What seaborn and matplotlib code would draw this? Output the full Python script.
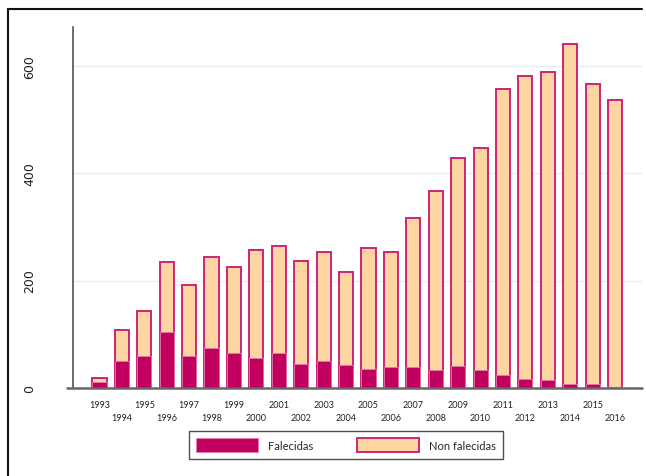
import numpy as np
import matplotlib
matplotlib.use("Agg")
import matplotlib.pyplot as plt
from matplotlib.patches import Patch
from matplotlib.lines import Line2D
import seaborn as sns

# datos (leidos do grafico)
anos = [str(a) for a in range(1993, 2017)]
falecidas = [12, 51, 59, 104, 59, 74, 65, 56, 66, 45, 51, 43,
             36, 39, 40, 33, 41, 33, 24, 16, 15, 8, 7, 1]
non_falecidas = [6, 57, 84, 130, 133, 170, 161, 200, 199, 192, 203, 173,
                 225, 215, 276, 333, 387, 414, 532, 564, 573, 632, 558, 535]
total = np.array(falecidas) + np.array(non_falecidas)

cor_fal = "#C2005F"
cor_non = "#FDD5A2"
cor_borde = "#CF2377"

sns.set_style("white")
plt.rcParams["font.family"] = ["Lato", "DejaVu Sans"]

fig = plt.figure(figsize=(6.46, 4.77), dpi=100)
ax = fig.add_axes([73 / 646, 1 - 389 / 477, 569 / 646, 361 / 477])

# barras apiladas: total (non falecidas enriba) e falecidas na base
sns.barplot(x=anos, y=total, color=cor_non, saturation=1, edgecolor=cor_borde,
            linewidth=1.4, width=0.63, ax=ax)
sns.barplot(x=anos, y=falecidas, color=cor_fal, saturation=1, edgecolor="#E07AAA",
            linewidth=0.6, width=0.63, ax=ax)

ax.set_xlim(-1.18, len(anos) - 1 + 1.2)
ax.set_ylim(0, 672)
ax.set_xlabel("")
ax.set_ylabel("")

# eixo y
ax.set_yticks([0, 200, 400, 600])
ax.set_yticklabels(["0", "200", "400", "600"], family="DejaVu Sans", fontsize=9,
                   rotation=90, va="center")
ax.tick_params(axis="y", length=4.5, width=1, color="#444444", pad=22, labelcolor="#222222")
ax.yaxis.grid(True, color="#E6F0F2", linewidth=1)
ax.set_axisbelow(True)

# eixo x con etiquetas alternadas
pos = np.arange(len(anos))
ax.set_xticks(pos[::2], anos[::2])
ax.set_xticks(pos[1::2], anos[1::2], minor=True)
ax.tick_params(axis="x", which="major", length=0, pad=8.5, labelsize=6.5, labelcolor="#222222")
ax.tick_params(axis="x", which="minor", length=0, pad=18, labelsize=6.5, labelcolor="#222222")

for s in ["top", "right", "bottom"]:
    ax.spines[s].set_visible(False)
ax.spines["left"].set_color("#444444")
ax.spines["left"].set_linewidth(1.1)
ax.plot([-6 / 569, 1], [0, 0], transform=ax.transAxes, color="#666666",
        linewidth=1.8, clip_on=False, zorder=5)

# lenda
handles = [Patch(facecolor=cor_fal, edgecolor="#E07AAA", linewidth=0.6),
           Patch(facecolor=cor_non, edgecolor=cor_borde, linewidth=1.4)]
leg = fig.legend(handles, ["Falecidas", "Non falecidas"], ncol=2,
                 loc="center left", bbox_to_anchor=(189 / 646, 1 - 446 / 477),
                 fontsize=8, handlelength=5.6, handleheight=1.6,
                 handletextpad=0.9, columnspacing=3.9, borderpad=0.65,
                 borderaxespad=0, fancybox=False, frameon=True)
leg.get_frame().set_edgecolor("#222222")
leg.get_frame().set_linewidth(1)

# marco exterior (superior e esquerdo)
fig.add_artist(Line2D([8 / 646, 642 / 646], [1 - 10 / 477, 1 - 10 / 477],
                      color="#111111", linewidth=1.5))
fig.add_artist(Line2D([8 / 646, 8 / 646], [0, 1 - 10 / 477],
                      color="#111111", linewidth=1.5))

fig.savefig("out.png", dpi=100)
